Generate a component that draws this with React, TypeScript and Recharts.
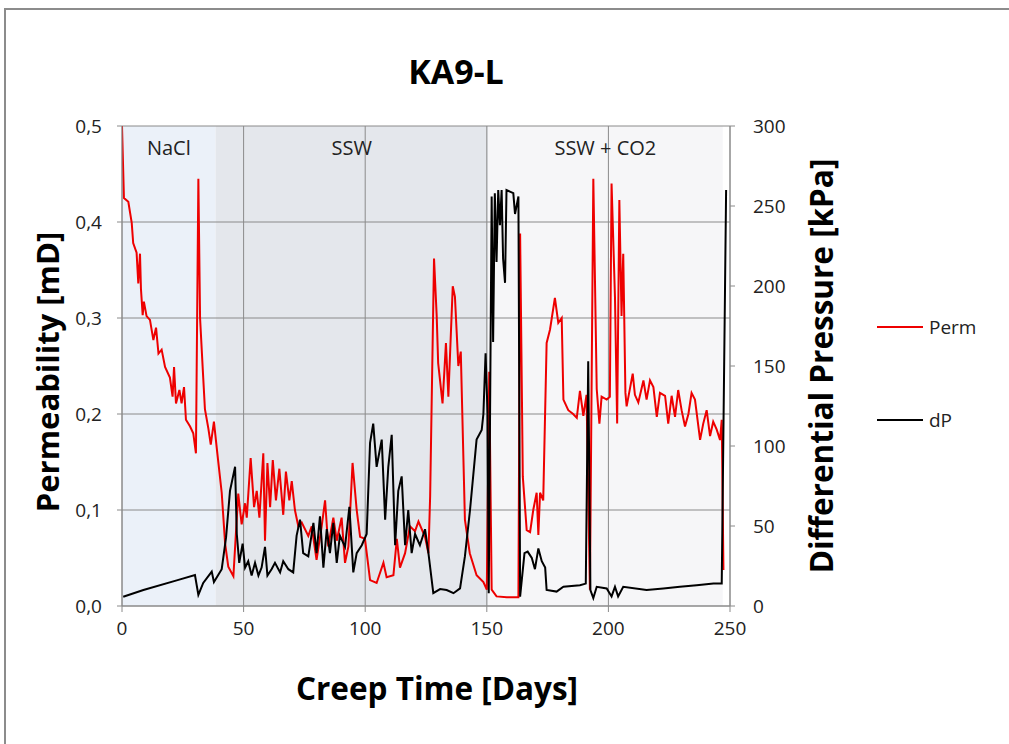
import React from 'react'
import {
  ComposedChart,
  Line,
  XAxis,
  YAxis,
  CartesianGrid,
  ReferenceArea,
} from 'recharts'

// creep time in days, permeability in mD (rows of 10)
const permDays = [
  0, 0.8, 2.6, 4, 4.6, 6, 6.7, 7.4, 7.8, 8.5,
  9, 10.1, 11.5, 12.9, 14, 15, 16.3, 17.7, 19.7, 20.8,
  21.4, 22.2, 23.6, 24.5, 25.5, 26.3, 28, 29.3, 30.4, 31.4,
  32.1, 33.2, 34.1, 35.5, 36.5, 37.8, 39.2, 41, 42.4, 43.7,
  45.8, 47.8, 49.2, 50.6, 51.3, 52.9, 54.3, 55.4, 56.5, 58.1,
  58.8, 59.8, 60.9, 62, 63.3, 64.7, 66.3, 67.4, 68.8, 69.8,
  71.1, 72.5, 73.9, 76.6, 78, 80, 82.1, 83.5, 84.8, 86.9,
  88.3, 90.3, 91.7, 93.1, 94.8, 96.5, 97.9, 99.9, 102, 104.7,
  107.5, 108.8, 111.6, 113, 114.3, 116.4, 118.4, 120.5, 121.9, 124.6,
  126, 126.7, 128.3, 129.4, 130, 131.8, 133.2, 134.2, 136, 136.9,
  138.3, 139.3, 141, 143, 145.8, 148.6, 150, 151, 152, 154,
  158.2, 163, 163.7, 164.8, 166.4, 167.8, 169.1, 170.5, 171.2, 171.9,
  173.2, 174.6, 176, 178, 179.4, 180.8, 181.5, 183.5, 185.5, 187,
  188.3, 189.7, 191, 192.4, 193.8, 195.2, 196.3, 197.2, 199.3, 200.6,
  201.3, 202.7, 203.6, 204.5, 205.4, 206.1, 207, 207.5, 210, 210.9,
  212.3, 214.4, 215.7, 217.1, 218.5, 219.9, 221.2, 223.3, 224.6, 226,
  227.4, 228.7, 230.1, 231.5, 232.9, 234.2, 235.6, 237.7, 239, 240.4,
  241.8, 243.1, 244.5, 245.9, 246.6, 247.3,
]
const permValues = [
  0.5, 0.425, 0.421, 0.399, 0.378, 0.368, 0.336, 0.367, 0.33, 0.303,
  0.317, 0.302, 0.298, 0.277, 0.29, 0.263, 0.267, 0.249, 0.238, 0.218,
  0.249, 0.211, 0.225, 0.211, 0.228, 0.194, 0.187, 0.18, 0.159, 0.445,
  0.3, 0.247, 0.205, 0.185, 0.168, 0.192, 0.159, 0.118, 0.065, 0.041,
  0.031, 0.117, 0.085, 0.107, 0.092, 0.154, 0.103, 0.12, 0.092, 0.159,
  0.068, 0.149, 0.103, 0.152, 0.11, 0.143, 0.095, 0.14, 0.11, 0.13,
  0.1, 0.083, 0.087, 0.073, 0.083, 0.048, 0.083, 0.11, 0.062, 0.092,
  0.068, 0.092, 0.045, 0.062, 0.149, 0.1, 0.072, 0.07, 0.027, 0.024,
  0.045, 0.03, 0.032, 0.07, 0.04, 0.055, 0.083, 0.078, 0.088, 0.072,
  0.055, 0.114, 0.362, 0.302, 0.253, 0.211, 0.274, 0.218, 0.333, 0.322,
  0.25, 0.265, 0.09, 0.055, 0.032, 0.025, 0.017, 0.244, 0.017, 0.01,
  0.009, 0.009, 0.388, 0.135, 0.079, 0.077, 0.1, 0.118, 0.074, 0.118,
  0.11, 0.274, 0.288, 0.321, 0.295, 0.3, 0.215, 0.204, 0.2, 0.196,
  0.224, 0.198, 0.22, 0.017, 0.445, 0.226, 0.19, 0.218, 0.215, 0.218,
  0.44, 0.322, 0.19, 0.423, 0.302, 0.367, 0.222, 0.208, 0.242, 0.22,
  0.212, 0.235, 0.215, 0.235, 0.228, 0.197, 0.222, 0.219, 0.19, 0.219,
  0.197, 0.225, 0.204, 0.187, 0.2, 0.222, 0.215, 0.173, 0.19, 0.204,
  0.177, 0.192, 0.184, 0.173, 0.194, 0.0375,
]

// differential pressure in kPa (rows of 10)
const dpDays = [
  0.5, 8.8, 22.5, 30, 31.4, 33.4, 36.9, 37.8, 41, 42.8,
  44.4, 46.5, 47.2, 48.2, 49.6, 50.6, 51.9, 53.3, 54.7, 56.1,
  57.4, 58.8, 59.8, 61.5, 62.9, 65, 66.3, 68.4, 70.4, 71.8,
  73.2, 74.5, 76.6, 78.7, 80, 81.4, 82.8, 84.2, 85.5, 86.9,
  88.3, 89.6, 91.7, 93.5, 95.1, 96.5, 98.6, 100.6, 102, 103.3,
  104.7, 106.8, 108.2, 109.5, 110.9, 112.3, 113.6, 115, 116.4, 117.7,
  119.1, 120.5, 122.5, 124.6, 126, 128, 130.8, 133.5, 136.3, 139,
  141, 143.1, 145.8, 147.9, 148.6, 149.5, 150.3, 150.8, 152, 152.6,
  153.3, 154, 154.7, 155.4, 156.1, 156.7, 157.5, 158.1, 159.5, 160.9,
  161.6, 163, 163.7, 165.5, 166.8, 168.5, 169.8, 171.2, 172.6, 174,
  174.6, 178.7, 181.5, 188.3, 190.7, 191.7, 192.6, 193.8, 195.2, 199.3,
  201.3, 202.7, 204, 206.1, 215.7, 222.6, 229.4, 236.3, 243.2, 246.6,
  248.4,
]
const dpValues = [
  5.8, 10, 16, 19.4, 6.9, 14.4, 21.5, 15, 23, 43,
  72, 87, 45, 27, 39, 24, 28, 19, 27, 19,
  24, 37, 19, 23, 27, 21, 28, 23, 21, 44,
  54, 33, 31, 52, 33, 56, 24, 48, 33, 52,
  27, 44, 37, 62, 21, 33, 38, 45, 102, 114,
  87, 104, 54, 87, 107, 38, 72, 81, 38, 60,
  33, 45, 38, 48, 33, 8, 10.6, 10, 8, 11,
  31, 60, 104, 110, 120, 158, 121, 8, 256, 165,
  258, 215, 260, 238, 260, 217, 202, 260, 259, 258,
  245, 256, 5.8, 33, 34, 30, 23, 36, 28, 24,
  10, 9, 12, 13, 14, 153, 10, 5, 12, 11,
  6, 12, 6, 12, 10, 11, 12, 13, 14, 14,
  260,
]

const phaseNames = ['NaCl', 'SSW', 'SSW + CO2']
const phaseStart = [0, 38.5, 150.5]
const phaseEnd = [38.5, 150.5, 247]
const phaseColors = ['#ebf1f9', '#e4e7ec', '#f6f6f8']

const xTicks = [0, 50, 100, 150, 200, 250]
const permTicks = [0, 0.1, 0.2, 0.3, 0.4, 0.5]
const dpTicks = [0, 50, 100, 150, 200, 250, 300]

const permData = permDays.map((d, i) => ({ d, v: permValues[i] }))
const dpData = dpDays.map((d, i) => ({ d, v: dpValues[i] }))

const series = [
  { name: 'Perm', color: '#ee0000' },
  { name: 'dP', color: '#000000' },
]

const font = '"Open Sans", sans-serif'
const tickStyle = { fontSize: 19, fill: '#222', fontFamily: font }

export default function App() {
  return (
    <div
      style={{
        position: 'absolute',
        left: 0,
        top: 0,
        width: 1009,
        height: 744,
        overflow: 'hidden',
        background: '#fff',
        fontFamily: font,
      }}
    >
      <div
        style={{
          position: 'absolute',
          left: 4,
          top: 8,
          width: 1100,
          height: 800,
          border: '2px solid #8c8c8c',
        }}
      />
      <div
        style={{
          position: 'absolute',
          left: 0,
          width: 912,
          top: 48,
          textAlign: 'center',
          fontSize: 34,
          fontWeight: 700,
        }}
      >
        KA9-L
      </div>

      <div style={{ position: 'absolute', left: 0, top: 0 }}>
        <ComposedChart
          width={1009}
          height={744}
          margin={{ top: 126, right: 0, bottom: 98, left: 0 }}
        >
          {phaseNames.map((name, i) => (
            <ReferenceArea
              key={name}
              yAxisId="left"
              x1={phaseStart[i]}
              x2={phaseEnd[i]}
              y1={0}
              y2={0.5}
              fill={phaseColors[i]}
              fillOpacity={1}
              stroke="none"
              zIndex={-200}
              label={{
                value: name,
                position: 'insideTop',
                offset: 15,
                fontSize: 20,
                fill: '#222',
                fontFamily: font,
              }}
            />
          ))}
          <CartesianGrid yAxisId="left" stroke="#8a8a8a" strokeWidth={1} />
          <XAxis
            dataKey="d"
            type="number"
            domain={[0, 250]}
            ticks={xTicks}
            allowDataOverflow
            height={40}
            tickSize={6}
            tickMargin={10}
            stroke="#8a8a8a"
            tick={tickStyle}
          />
          <YAxis
            yAxisId="left"
            type="number"
            domain={[0, 0.5]}
            ticks={permTicks}
            width={122}
            tickSize={5}
            tickMargin={15}
            stroke="#8a8a8a"
            tick={tickStyle}
            tickFormatter={(v: number) => v.toFixed(1).replace('.', ',')}
          />
          <YAxis
            yAxisId="right"
            orientation="right"
            type="number"
            domain={[0, 300]}
            ticks={dpTicks}
            width={279}
            tickSize={5}
            tickMargin={18}
            stroke="#8a8a8a"
            tick={tickStyle}
          />
          <Line
            yAxisId="left"
            data={permData}
            dataKey="v"
            name="Perm"
            type="linear"
            stroke={series[0].color}
            strokeWidth={2}
            dot={false}
            isAnimationActive={false}
          />
          <Line
            yAxisId="right"
            data={dpData}
            dataKey="v"
            name="dP"
            type="linear"
            stroke={series[1].color}
            strokeWidth={2}
            dot={false}
            isAnimationActive={false}
          />
        </ComposedChart>
      </div>

      <div
        style={{
          position: 'absolute',
          left: 47,
          top: 372,
          transform: 'translate(-50%, -50%) rotate(-90deg)',
          whiteSpace: 'nowrap',
          fontSize: 31,
          fontWeight: 700,
        }}
      >
        Permeability [mD]
      </div>
      <div
        style={{
          position: 'absolute',
          left: 820,
          top: 366,
          transform: 'translate(-50%, -50%) rotate(-90deg)',
          whiteSpace: 'nowrap',
          fontSize: 31.5,
          fontWeight: 700,
        }}
      >
        Differential Pressure [kPa]
      </div>
      <div
        style={{
          position: 'absolute',
          left: 0,
          width: 874,
          top: 666,
          textAlign: 'center',
          fontSize: 31.5,
          fontWeight: 700,
        }}
      >
        Creep Time [Days]
      </div>

      {series.map((s, i) => (
        <div
          key={s.name}
          style={{
            position: 'absolute',
            left: 877,
            top: 314 + i * 93,
            display: 'flex',
            alignItems: 'center',
            fontSize: 19,
            color: '#222',
          }}
        >
          <span
            style={{ display: 'inline-block', width: 46, height: 2, background: s.color, marginRight: 6 }}
          />
          {s.name}
        </div>
      ))}
    </div>
  )
}
